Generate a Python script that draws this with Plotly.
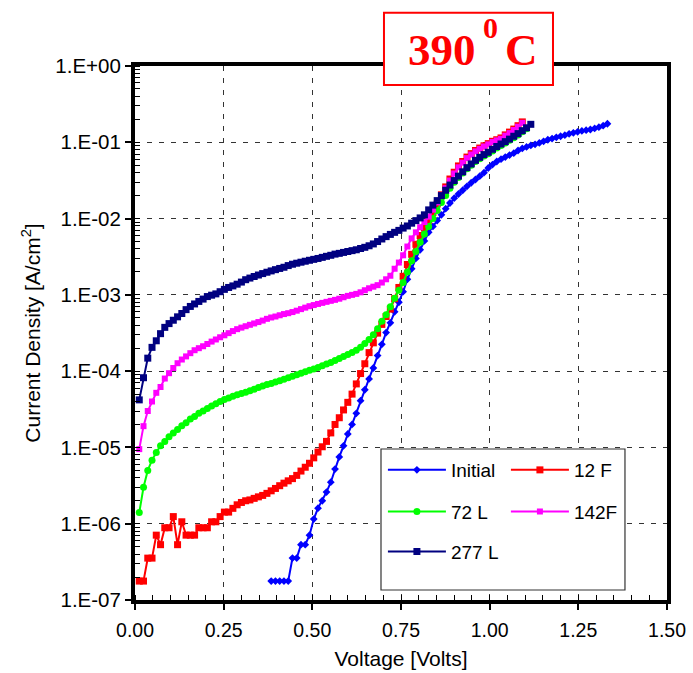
import plotly.graph_objects as go

# Measurement grid (V), shared by all sweeps
voltage = [
    0.012, 0.024, 0.036, 0.048, 0.060, 0.072, 0.084, 0.096, 0.108, 0.120,
    0.132, 0.144, 0.156, 0.168, 0.180, 0.192, 0.204, 0.216, 0.228, 0.240,
    0.252, 0.264, 0.276, 0.288, 0.300, 0.312, 0.324, 0.336, 0.348, 0.360,
    0.372, 0.384, 0.396, 0.408, 0.420, 0.432, 0.444, 0.456, 0.468, 0.480,
    0.492, 0.504, 0.516, 0.528, 0.540, 0.552, 0.564, 0.576, 0.588, 0.600,
    0.612, 0.624, 0.636, 0.648, 0.660, 0.672, 0.684, 0.696, 0.708, 0.720,
    0.732, 0.744, 0.756, 0.768, 0.780, 0.792, 0.804, 0.816, 0.828, 0.840,
    0.852, 0.864, 0.876, 0.888, 0.900, 0.912, 0.924, 0.936, 0.948, 0.960,
    0.972, 0.984, 0.996, 1.008, 1.020, 1.032, 1.044, 1.056, 1.068, 1.080,
    1.092, 1.104, 1.116, 1.128, 1.140, 1.152, 1.164, 1.176, 1.188, 1.200,
    1.212, 1.224, 1.236, 1.248, 1.260, 1.272, 1.284, 1.296, 1.308, 1.320,
    1.332,
]

# Current density (A/cm^2); the "Initial" sweep starts at voltage[31]
initial_start = 31
initial_j = [
    1.77e-7, 1.77e-7, 1.77e-7, 1.77e-7, 1.77e-7,
    3.54e-7, 3.54e-7, 5.31e-7, 5.31e-7, 7.08e-7,
    1.15e-6, 1.6e-6, 2.0e-6, 2.6e-6, 3.5e-6,
    5.2e-6, 7.5e-6, 1.05e-5, 1.5e-5, 2.0e-5,
    2.8e-5, 4.1e-5, 5.7e-5, 7.9e-5, 1.1e-4,
    1.6e-4, 2.25e-4, 3.2e-4, 4.3e-4, 6.0e-4,
    8.0e-4, 1.1e-3, 1.6e-3, 2.2e-3, 3.0e-3,
    3.9e-3, 5.1e-3, 6.6e-3, 7.9e-3, 9.4e-3,
    1.12e-2, 1.35e-2, 1.6e-2, 1.85e-2, 2.1e-2,
    2.35e-2, 2.65e-2, 2.95e-2, 3.25e-2, 3.6e-2,
    4.0e-2, 4.6e-2, 5.1e-2, 5.6e-2, 6.0e-2,
    6.4e-2, 6.8e-2, 7.2e-2, 7.8e-2, 8.3e-2,
    8.7e-2, 9.1e-2, 9.4e-2, 9.8e-2, 0.103,
    0.108, 0.112, 0.116, 0.120, 0.124,
    0.129, 0.133, 0.137, 0.141, 0.144,
    0.147, 0.152, 0.158, 0.165, 0.175,
]

f12_j = [
    1.77e-7, 1.77e-7, 3.54e-7, 3.54e-7, 7.08e-7, 5.31e-7, 8.85e-7, 8.85e-7, 1.24e-6, 5.31e-7,
    1.06e-6, 7.08e-7, 7.08e-7, 7.08e-7, 8.85e-7, 8.85e-7, 8.85e-7, 1.06e-6, 1.06e-6, 1.24e-6,
    1.42e-6, 1.42e-6, 1.59e-6, 1.77e-6, 1.9e-6, 2.0e-6, 2.05e-6, 2.15e-6, 2.25e-6, 2.35e-6,
    2.5e-6, 2.7e-6, 2.9e-6, 3.15e-6, 3.4e-6, 3.65e-6, 3.9e-6, 4.3e-6, 4.9e-6, 5.5e-6,
    6.2e-6, 7.3e-6, 8.7e-6, 1.02e-5, 1.2e-5, 1.55e-5, 2.0e-5, 2.45e-5, 3.1e-5, 3.9e-5,
    5.0e-5, 6.8e-5, 9.3e-5, 1.25e-4, 1.75e-4, 2.35e-4, 3.15e-4, 4.1e-4, 5.2e-4, 6.5e-4,
    8.9e-4, 1.25e-3, 1.75e-3, 2.5e-3, 3.4e-3, 4.6e-3, 6.0e-3, 7.6e-3, 9.5e-3, 1.2e-2,
    1.55e-2, 2.05e-2, 2.6e-2, 3.3e-2, 4.05e-2, 4.9e-2, 5.6e-2, 6.4e-2, 7.1e-2, 7.8e-2,
    8.4e-2, 9.0e-2, 9.6e-2, 0.103, 0.108, 0.114, 0.125, 0.136, 0.149, 0.165,
    0.185,
]

l72_j = [
    1.4e-6, 3.0e-6, 5.0e-6, 6.8e-6, 8.6e-6, 1.05e-5, 1.2e-5, 1.38e-5, 1.55e-5, 1.72e-5,
    1.92e-5, 2.1e-5, 2.35e-5, 2.55e-5, 2.8e-5, 3.0e-5, 3.25e-5, 3.5e-5, 3.75e-5, 4.0e-5,
    4.25e-5, 4.45e-5, 4.7e-5, 4.9e-5, 5.1e-5, 5.3e-5, 5.55e-5, 5.8e-5, 6.1e-5, 6.4e-5,
    6.7e-5, 6.9e-5, 7.2e-5, 7.5e-5, 7.8e-5, 8.2e-5, 8.6e-5, 9.0e-5, 9.4e-5, 9.8e-5,
    1.03e-4, 1.07e-4, 1.12e-4, 1.18e-4, 1.24e-4, 1.3e-4, 1.38e-4, 1.46e-4, 1.55e-4, 1.65e-4,
    1.75e-4, 1.88e-4, 2.05e-4, 2.3e-4, 2.6e-4, 3.0e-4, 3.6e-4, 4.5e-4, 5.5e-4, 7.0e-4,
    9.0e-4, 1.15e-3, 1.45e-3, 2.0e-3, 2.8e-3, 3.7e-3, 4.9e-3, 6.3e-3, 7.9e-3, 1.0e-2,
    1.28e-2, 1.62e-2, 2.0e-2, 2.5e-2, 3.0e-2, 3.45e-2, 3.95e-2, 4.5e-2, 5.0e-2, 5.6e-2,
    6.1e-2, 6.6e-2, 7.1e-2, 7.7e-2, 8.4e-2, 9.1e-2, 9.8e-2, 0.106, 0.115, 0.125,
    0.137, 0.150,
]

f142_j = [
    9.5e-6, 1.9e-5, 3.0e-5, 4.0e-5, 5.2e-5, 6.2e-5, 8.0e-5, 9.4e-5, 1.1e-4, 1.27e-4,
    1.42e-4, 1.56e-4, 1.72e-4, 1.88e-4, 2.0e-4, 2.12e-4, 2.27e-4, 2.44e-4, 2.6e-4, 2.78e-4,
    2.95e-4, 3.15e-4, 3.35e-4, 3.55e-4, 3.72e-4, 3.88e-4, 4.05e-4, 4.22e-4, 4.4e-4, 4.6e-4,
    4.85e-4, 5.05e-4, 5.2e-4, 5.4e-4, 5.6e-4, 5.75e-4, 5.95e-4, 6.2e-4, 6.5e-4, 6.8e-4,
    7.1e-4, 7.35e-4, 7.6e-4, 7.85e-4, 8.1e-4, 8.35e-4, 8.6e-4, 8.9e-4, 9.3e-4, 9.7e-4,
    1.0e-3, 1.03e-3, 1.08e-3, 1.15e-3, 1.22e-3, 1.28e-3, 1.34e-3, 1.45e-3, 1.6e-3, 1.78e-3,
    2.2e-3, 2.65e-3, 3.3e-3, 4.3e-3, 5.5e-3, 6.6e-3, 7.7e-3, 9.0e-3, 1.06e-2, 1.31e-2,
    1.63e-2, 2.04e-2, 2.5e-2, 3.15e-2, 3.9e-2, 4.7e-2, 5.4e-2, 6.2e-2, 6.9e-2, 7.6e-2,
    8.2e-2, 8.8e-2, 9.4e-2, 0.101, 0.106, 0.111, 0.122, 0.132, 0.145, 0.160,
    0.180,
]

l277_j = [
    4.2e-5, 8.2e-5, 1.48e-4, 2.05e-4, 2.5e-4, 3.1e-4, 3.75e-4, 4.2e-4, 4.65e-4, 5.15e-4,
    5.7e-4, 6.4e-4, 7.05e-4, 7.6e-4, 8.2e-4, 8.8e-4, 9.5e-4, 9.9e-4, 1.03e-3, 1.1e-3,
    1.18e-3, 1.25e-3, 1.31e-3, 1.38e-3, 1.47e-3, 1.58e-3, 1.66e-3, 1.74e-3, 1.82e-3, 1.9e-3,
    1.98e-3, 2.06e-3, 2.14e-3, 2.22e-3, 2.3e-3, 2.42e-3, 2.52e-3, 2.6e-3, 2.68e-3, 2.76e-3,
    2.84e-3, 2.92e-3, 3.0e-3, 3.1e-3, 3.2e-3, 3.3e-3, 3.42e-3, 3.5e-3, 3.6e-3, 3.7e-3,
    3.8e-3, 3.9e-3, 4.05e-3, 4.2e-3, 4.4e-3, 4.65e-3, 5.0e-3, 5.4e-3, 5.8e-3, 6.2e-3,
    6.6e-3, 7.0e-3, 7.5e-3, 8.0e-3, 8.7e-3, 9.4e-3, 1.02e-2, 1.12e-2, 1.3e-2, 1.5e-2,
    1.72e-2, 2.0e-2, 2.35e-2, 2.75e-2, 3.15e-2, 3.6e-2, 4.1e-2, 4.65e-2, 5.2e-2, 5.8e-2,
    6.35e-2, 6.9e-2, 7.4e-2, 8.1e-2, 8.8e-2, 9.5e-2, 0.102, 0.110, 0.120, 0.130,
    0.142, 0.155, 0.172,
]

series_names = ["Initial", "12 F", "72 L", "142F", "277 L"]
series_colors = ["#0000FF", "#FF0000", "#00FF00", "#FF00FF", "#000080"]
series_symbols = ["diamond", "square", "circle", "square", "square"]
series_sizes = [6, 7, 7, 6, 7]
series_legends = ["legend", "legend", "legend2", "legend2", "legend3"]

x_tick_vals = [0.0, 0.25, 0.5, 0.75, 1.0, 1.25, 1.5]
x_tick_text = ["0.00", "0.25", "0.50", "0.75", "1.00", "1.25", "1.50"]
y_tick_vals = [1e-7, 1e-6, 1e-5, 1e-4, 1e-3, 1e-2, 1e-1, 1.0]
y_tick_text = ["1.E-07", "1.E-06", "1.E-05", "1.E-04", "1.E-03", "1.E-02", "1.E-01", "1.E+00"]

series_x = [
    voltage[initial_start:initial_start + len(initial_j)],
    voltage[:len(f12_j)],
    voltage[:len(l72_j)],
    voltage[:len(f142_j)],
    voltage[:len(l277_j)],
]
series_y = [initial_j, f12_j, l72_j, f142_j, l277_j]

SANS = "Liberation Sans, Arial, sans-serif"
SERIF = "Liberation Serif, Times New Roman, serif"

fig = go.Figure()
for name, xs, ys, col, sym, sz, lg in zip(series_names, series_x, series_y, series_colors,
                                          series_symbols, series_sizes, series_legends):
    fig.add_trace(go.Scatter(
        x=xs, y=ys, name=name, mode="lines+markers", legend=lg,
        line=dict(color=col, width=2),
        marker=dict(symbol=sym, size=sz, color=col, line=dict(width=0)),
    ))

grid_style = dict(showgrid=True, gridcolor="#333333", gridwidth=1, griddash="5px,7px")
axis_common = dict(
    showline=True, linecolor="black", linewidth=4, mirror=True,
    ticks="outside", ticklen=6, tickwidth=1.5, tickcolor="black",
    zeroline=False, automargin=False, **grid_style,
)

fig.update_xaxes(
    range=[0, 1.5], tickmode="array", tickvals=x_tick_vals, ticktext=x_tick_text,
    tickfont=dict(family=SANS, size=19.5, color="black"), ticklabelstandoff=4,
    minor=dict(ticks="inside", dtick=0.05, tick0=0, ticklen=5, tickcolor="black",
               tickwidth=1, showgrid=False),
    title=dict(text="Voltage [Volts]", font=dict(family=SANS, size=21, color="black"),
               standoff=12),
    **axis_common,
)
fig.update_yaxes(
    type="log", range=[-7, 0], tickmode="array", tickvals=y_tick_vals, ticktext=y_tick_text,
    tickfont=dict(family=SANS, size=20.5, color="black"),
    minor=dict(ticks="inside", tickmode="linear", dtick="D1", ticklen=5, tickcolor="black",
               tickwidth=1, showgrid=False),
    title=dict(text="Current Density [A/cm<sup>2</sup>]",
               font=dict(family=SANS, size=21, color="black"), standoff=10),
    **axis_common,
)

legend_common = dict(
    orientation="h", xanchor="left", yanchor="middle", x=0.466,
    bgcolor="rgba(0,0,0,0)", borderwidth=0,
    font=dict(family=SANS, size=19, color="black"),
    itemwidth=58, entrywidth=50, entrywidthmode="pixels",
)

# temperature label: "390 ⁰C" in a red frame overlapping the top border
label_font = dict(family=SERIF, color="red")
fig.update_layout(
    width=693, height=673,
    margin=dict(l=135, r=26, t=66, b=73, autoexpand=False),
    paper_bgcolor="white", plot_bgcolor="white",
    showlegend=True,
    legend=dict(y=0.2434, **legend_common),
    legend2=dict(y=0.1654, **legend_common),
    legend3=dict(y=0.0904, **legend_common),
    shapes=[
        # legend frame
        dict(type="rect", xref="paper", yref="paper", x0=0.4624, x1=0.921, y0=0.0187, y1=0.2828,
             line=dict(color="#333333", width=1.2), fillcolor="white", layer="above"),
        # temperature label frame
        dict(type="rect", xref="paper", yref="paper", x0=0.468, x1=0.7857, y0=0.9644, y1=1.0998,
             line=dict(color="red", width=2), fillcolor="white", layer="above"),
    ],
    annotations=[
        dict(xref="paper", yref="paper", x=0.5776, y=1.030, xanchor="center", yanchor="middle",
             text="<b>390</b>", showarrow=False, font=dict(size=45, **label_font)),
        dict(xref="paper", yref="paper", x=0.6690, y=1.072, xanchor="center", yanchor="middle",
             text="<b>0</b>", showarrow=False, font=dict(size=30, **label_font)),
        dict(xref="paper", yref="paper", x=0.7270, y=1.030, xanchor="center", yanchor="middle",
             text="<b>C</b>", showarrow=False, font=dict(size=45, **label_font)),
    ],
)

fig.write_html("out.html")
